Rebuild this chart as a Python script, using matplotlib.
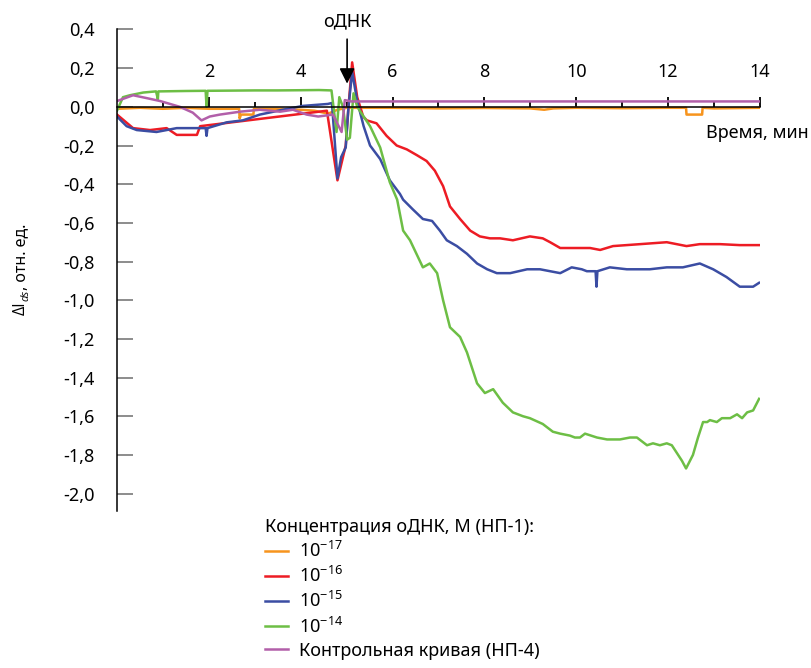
import numpy as np
import matplotlib
matplotlib.use("Agg")
import matplotlib.pyplot as plt
from matplotlib.lines import Line2D

plt.rcParams["font.family"] = ["Noto Sans", "DejaVu Sans"]
plt.rcParams["mathtext.fontset"] = "custom"
plt.rcParams["mathtext.rm"] = "Noto Sans"
plt.rcParams["mathtext.it"] = "Noto Sans:italic"
plt.rcParams["mathtext.default"] = "regular"

# ---- data (time in min, dI in rel. units) ----
orange_x = [0, 0.5, 1.0, 1.5, 2.0, 2.5, 2.66, 2.67, 2.70, 2.97, 2.98, 3.5, 4.0, 4.3,
            4.6, 4.8, 5.0, 6, 7, 8, 9, 9.3, 9.5, 10, 11, 12, 12.39, 12.40, 12.74,
            12.75, 13, 14]
orange_y = [-0.01, -0.005, -0.01, -0.005, -0.01, -0.01, -0.01, -0.06, -0.04, -0.04,
            -0.01, -0.01, -0.015, -0.02, -0.035, -0.015, -0.005, -0.005, -0.008,
            -0.006, -0.008, -0.015, -0.008, -0.005, -0.007, -0.005, -0.005, -0.04,
            -0.04, -0.005, -0.008, -0.005]

red_x = [0, 0.35, 0.72, 1.08, 1.30, 1.74, 1.81, 4.57, 4.80, 4.88, 4.98, 5.04, 5.12,
         5.23, 5.36, 5.44, 5.65, 5.87, 6.09, 6.31, 6.53, 6.74, 6.92, 7.10, 7.25,
         7.47, 7.69, 7.90, 8.12, 8.34, 8.62, 8.99, 9.27, 9.43, 9.65, 10.30, 10.52,
         10.80, 11.39, 11.97, 12.40, 12.69, 13.13, 13.56, 13.98]
red_y = [-0.04, -0.11, -0.12, -0.11, -0.145, -0.145, -0.10, -0.02, -0.38, -0.30,
         -0.20, 0.0, 0.23, 0.05, -0.05, -0.07, -0.085, -0.15, -0.20, -0.22, -0.25,
         -0.28, -0.33, -0.41, -0.515, -0.58, -0.64, -0.67, -0.68, -0.68, -0.69,
         -0.67, -0.68, -0.70, -0.73, -0.73, -0.74, -0.72, -0.71, -0.70, -0.72,
         -0.71, -0.71, -0.715, -0.715]

blue_x = [0, 0.21, 0.43, 0.86, 1.30, 1.74, 1.93, 1.95, 1.97, 2.39, 2.74, 3.11, 3.61,
          4.05, 4.59, 4.68, 4.80, 4.88, 4.98, 5.04, 5.12, 5.23, 5.37, 5.51, 5.73,
          5.94, 6.16, 6.23, 6.44, 6.66, 6.86, 7.03, 7.18, 7.40, 7.62, 7.84, 8.06,
          8.27, 8.56, 8.93, 9.21, 9.43, 9.65, 9.90, 10.12, 10.23, 10.42, 10.44,
          10.46, 10.73, 11.10, 11.60, 11.97, 12.32, 12.69, 12.98, 13.27, 13.56,
          13.85, 13.98]
blue_y = [-0.05, -0.10, -0.12, -0.13, -0.11, -0.11, -0.11, -0.15, -0.11, -0.08,
          -0.07, -0.04, -0.015, 0.005, 0.015, 0.02, -0.37, -0.26, -0.21, 0.0, 0.18,
          0.03, -0.10, -0.20, -0.27, -0.38, -0.45, -0.48, -0.53, -0.58, -0.59,
          -0.64, -0.69, -0.72, -0.76, -0.81, -0.84, -0.86, -0.86, -0.84, -0.84,
          -0.85, -0.86, -0.83, -0.84, -0.85, -0.85, -0.93, -0.85, -0.83, -0.84,
          -0.84, -0.83, -0.83, -0.81, -0.84, -0.88, -0.93, -0.93, -0.91]

green_x = [0, 0.13, 0.28, 0.57, 0.85, 0.89, 0.90, 0.94, 1.5, 1.93, 1.95, 1.97, 2.5,
           3.0, 3.5, 4.0, 4.4, 4.67, 4.78, 4.84, 4.92, 5.01, 5.07, 5.15, 5.23, 5.51,
           5.73, 5.94, 6.10, 6.23, 6.38, 6.66, 6.81, 6.97, 7.10, 7.25, 7.47, 7.62,
           7.84, 8.01, 8.19, 8.40, 8.62, 8.84, 8.99, 9.27, 9.49, 9.65, 9.86, 9.97,
           10.08, 10.19, 10.45, 10.67, 10.95, 11.17, 11.32, 11.54, 11.67, 11.82,
           11.97, 12.08, 12.19, 12.30, 12.39, 12.54, 12.65, 12.76, 12.85, 12.91,
           13.06, 13.17, 13.35, 13.50, 13.61, 13.72, 13.85, 13.98]
green_y = [-0.02, 0.05, 0.06, 0.074, 0.08, 0.04, 0.08, 0.08, 0.082, 0.083, 0.0,
           0.083, 0.084, 0.085, 0.085, 0.086, 0.087, 0.085, -0.13, 0.05, 0.0, -0.17,
           -0.16, 0.07, 0.0, -0.10, -0.21, -0.39, -0.48, -0.64, -0.69, -0.83, -0.81,
           -0.86, -1.00, -1.14, -1.19, -1.27, -1.43, -1.48, -1.46, -1.53, -1.58,
           -1.60, -1.61, -1.64, -1.68, -1.69, -1.70, -1.71, -1.71, -1.69, -1.71,
           -1.72, -1.72, -1.71, -1.71, -1.75, -1.74, -1.75, -1.74, -1.75, -1.79,
           -1.83, -1.87, -1.80, -1.71, -1.63, -1.63, -1.62, -1.63, -1.61, -1.61,
           -1.59, -1.61, -1.58, -1.57, -1.51]

purple_x = [0, 0.35, 0.65, 0.94, 1.37, 1.65, 1.84, 2.02, 2.24, 2.68, 3.11, 3.55,
            3.83, 4.13, 4.38, 4.70, 4.89, 4.96, 5.1, 14]
purple_y = [0.03, 0.06, 0.045, 0.03, 0.0, -0.03, -0.07, -0.05, -0.04, -0.025, -0.015,
            -0.025, -0.015, -0.04, -0.05, -0.04, -0.13, 0.035, 0.028, 0.028]

labels = ["10$^{-17}$", "10$^{-16}$", "10$^{-15}$", "10$^{-14}$",
          "Контрольная кривая (НП-4)"]
colors = ["#F7941D", "#ED1C24", "#3B4DA3", "#6DBE45", "#B25FA9"]

y_ticks = [0.4, 0.2, 0.0, -0.2, -0.4, -0.6, -0.8, -1.0, -1.2, -1.4, -1.6, -1.8, -2.0]
y_ticklabels = ["0,4", "0,2", "0,0", "-0,2", "-0,4", "-0,6", "-0,8", "-1,0",
                "-1,2", "-1,4", "-1,6", "-1,8", "-2,0"]
x_ticks = [2, 4, 6, 8, 10, 12, 14]

# ---- figure ----
W, H = 811, 668
fig = plt.figure(figsize=(W / 100, H / 100), dpi=100)
ax = fig.add_axes([117 / W, 1 - 511 / H, (760 - 117) / W, (511 - 29.5) / H])
ax.set_xlim(0, 14)
ax.set_ylim(-2.09, 0.4)

series = [(orange_x, orange_y), (red_x, red_y), (blue_x, blue_y),
          (green_x, green_y), (purple_x, purple_y)]
for (xs, ys), c, lab in zip(series, colors, labels):
    ax.plot(xs, ys, color=c, lw=1.8, label=lab, solid_joinstyle="round")

# spines: left axis + x axis through zero, ticks pointing up
ax.spines["right"].set_visible(False)
ax.spines["bottom"].set_visible(False)
ax.spines["top"].set_position(("data", 0))
ax.spines["top"].set_linewidth(1.1)
ax.spines["left"].set_linewidth(1.1)

ax.xaxis.set_ticks_position("top")
ax.set_xticks(x_ticks)
ax.set_xticklabels([str(v) for v in x_ticks])
ax.set_xticks(np.arange(1, 14, 2), minor=True)
ax.tick_params(axis="x", which="major", direction="out", length=7.5, width=1.3,
               pad=11, labelsize=13)
ax.tick_params(axis="x", which="minor", direction="out", length=3.5, width=1.3)

ax.set_yticks(y_ticks)
ax.set_yticklabels(y_ticklabels)
ax.tick_params(axis="y", direction="in", length=11.5, width=1.4, color="#8c8c8c",
               pad=16, labelsize=13)

# y label built from pieces (rotated, reads bottom to top)
renderer = fig.canvas.get_renderer()
x_base, y_pos = 25 / W, 1 - 315 / H
kw = dict(rotation=90, rotation_mode="anchor", ha="left", va="baseline")
t1 = fig.text(x_base, y_pos, "ΔI", fontsize=11.5, family="Open Sans", **kw)
y_pos += t1.get_window_extent(renderer).height / H
t2 = fig.text(x_base + 3.5 / W, y_pos, "ds", fontsize=8, style="italic",
              family="Open Sans", **kw)
y_pos += (t2.get_window_extent(renderer).height + 0.5) / H
fig.text(x_base, y_pos, ", отн. ед.", fontsize=11.5, **kw)

fig.text(706 / W, 1 - 133 / H, "Время, мин", ha="left", va="center", fontsize=13)
ax.annotate("", xy=(5.01, 0.12), xytext=(5.01, 0.35),
            arrowprops=dict(arrowstyle="-|>", color="black", lw=1.2,
                            mutation_scale=23, shrinkA=0, shrinkB=0),
            annotation_clip=False)
ax.text(5.01, 0.44, "оДНК", ha="center", va="center", fontsize=13, clip_on=False)

handles = [Line2D([], [], color=c, lw=1.8) for c in colors]
fig.legend(handles, labels, title="Концентрация оДНК, М (НП-1):",
           loc="upper left", bbox_to_anchor=(265 / W, 1 - 518 / H),
           frameon=False, alignment="left", fontsize=13, title_fontsize=13,
           handlelength=1.3, handletextpad=0.6, labelspacing=0.28,
           borderpad=0, borderaxespad=0)

fig.savefig("out.png", dpi=100)
